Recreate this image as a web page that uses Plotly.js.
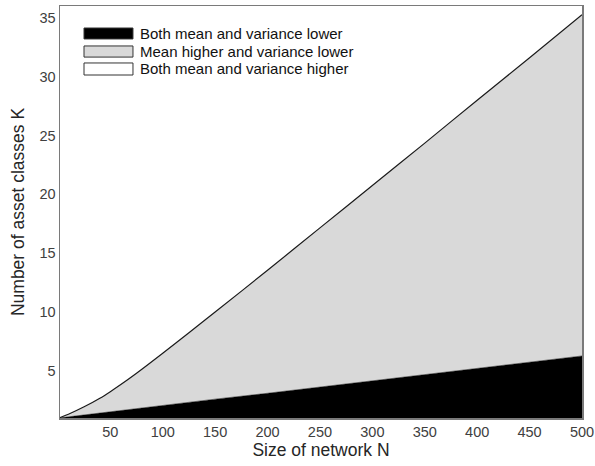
<!DOCTYPE html>
<html>
<head>
<meta charset="utf-8">
<script src="https://cdn.plot.ly/plotly-3.0.1.min.js"></script>
<style>html,body{margin:0;padding:0;background:#fff;}#chart{width:595px;height:466px;}</style>
</head>
<body>
<div id="chart"></div>
<script>
// Data
const networkSize = [1, 10, 25, 40, 50, 60, 75, 100, 125, 150, 200, 250, 300, 350, 400, 450, 500];
const lowerBoundary = [1, 1.1, 1.27, 1.43, 1.54, 1.65, 1.81, 2.08, 2.35, 2.6, 3.1, 3.63, 4.14, 4.66, 5.2, 5.72, 6.27];
const upperBoundary = [1, 1.32, 1.95, 2.68, 3.24, 3.84, 4.8, 6.5, 8.25, 10.0, 13.55, 17.15, 20.75, 24.35, 28.0, 31.6, 35.25];
const legendLabels = ["Both mean and variance lower", "Mean higher and variance lower", "Both mean and variance higher"];
const legendColors = ["#000000", "#d9d9d9", "#ffffff"];
const xTicks = [50, 100, 150, 200, 250, 300, 350, 400, 450, 500];
const yTicks = [5, 10, 15, 20, 25, 30, 35];

const traces = [
  {x: networkSize, y: lowerBoundary, type: 'scatter', mode: 'lines', fill: 'tozeroy',
   fillcolor: legendColors[0], line: {color: legendColors[0], width: 0.5}, showlegend: false, hoverinfo: 'skip'},
  {x: networkSize, y: upperBoundary, type: 'scatter', mode: 'lines', fill: 'tonexty',
   fillcolor: legendColors[1], line: {color: '#1a1a1a', width: 1.2, shape: 'spline', smoothing: 0.8}, showlegend: false, hoverinfo: 'skip'}
];

// manual legend (paper coordinates)
const boxX0 = 0.046, boxX1 = 0.1398, textX = 0.150;
const boxY = [[0.920, 0.9466], [0.876, 0.903], [0.8325, 0.8617]];
const shapes = [];
const annotations = [];
legendLabels.forEach((lab, i) => {
  shapes.push({type: 'rect', xref: 'paper', yref: 'paper', x0: boxX0, x1: boxX1, y0: boxY[i][0], y1: boxY[i][1],
    fillcolor: legendColors[i], line: {color: '#333333', width: 1}});
  annotations.push({xref: 'paper', yref: 'paper', x: textX, y: (boxY[i][0] + boxY[i][1]) / 2,
    xanchor: 'left', yanchor: 'middle', showarrow: false, text: lab,
    font: {family: 'Liberation Sans, Arial, sans-serif', size: 15, color: '#111111'}});
});

const layout = {
  width: 595, height: 466,
  margin: {l: 60, r: 13, t: 6, b: 48, pad: 0},
  paper_bgcolor: '#ffffff', plot_bgcolor: '#ffffff',
  font: {family: 'Liberation Sans, Arial, sans-serif', size: 14, color: '#404040'},
  xaxis: {range: [2, 500], tickvals: xTicks, showgrid: false, zeroline: false,
    showline: true, mirror: true, linecolor: '#7a7a7a', linewidth: 1.5, ticks: '', ticklen: 0,
    tickfont: {size: 14.5, color: '#404040'},
    title: {text: 'Size of network N', font: {size: 17.5, color: '#262626'}, standoff: 5}},
  yaxis: {range: [1, 36], tickvals: yTicks, showgrid: false, zeroline: false,
    showline: true, mirror: true, linecolor: '#7a7a7a', linewidth: 1.5, ticks: '', ticklen: 0,
    tickfont: {size: 14.5, color: '#404040'},
    title: {text: 'Number of asset classes K', font: {size: 17.5, color: '#262626'}, standoff: 10}},
  shapes: shapes,
  annotations: annotations,
  showlegend: false
};

Plotly.newPlot('chart', traces, layout, {staticPlot: true, displayModeBar: false});
</script>
</body>
</html>
